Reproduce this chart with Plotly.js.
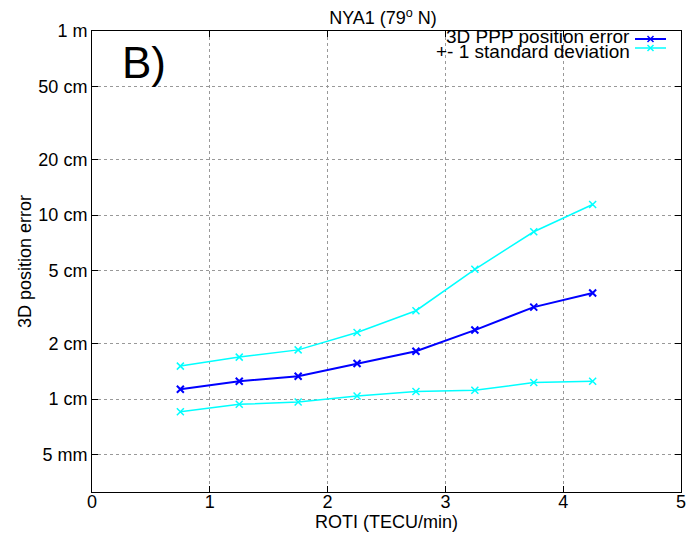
<!DOCTYPE html>
<html>
<head>
<meta charset="utf-8">
<script src="https://cdn.plot.ly/plotly-3.0.1.min.js"></script>
<style>html,body{margin:0;padding:0;background:#fff;}#chart{width:696px;height:544px;}</style>
</head>
<body>
<div id="chart"></div>
<script>
// ROTI bin centres (TECU/min)
const roti = [0.75, 1.25, 1.75, 2.25, 2.75, 3.25, 3.75, 4.25];
// 3D PPP position error (cm)
const meanError = [1.13, 1.25, 1.33, 1.56, 1.82, 2.37, 3.16, 3.77];
// +1 standard deviation (cm)
const upperStd = [1.51, 1.69, 1.85, 2.30, 3.02, 5.07, 8.11, 11.4];
// -1 standard deviation (cm)
const lowerStd = [0.853, 0.936, 0.963, 1.04, 1.10, 1.115, 1.23, 1.25];
// y tick values (cm) and labels
const yTickVals = [0.5, 1, 2, 5, 10, 20, 50, 100];
const yTickText = ['5 mm', '1 cm', '2 cm', '5 cm', '10 cm', '20 cm', '50 cm', '1 m'];
const xTickVals = [0, 1, 2, 3, 4, 5];

const font = 'Liberation Sans, Arial, sans-serif';
const BLUE = '#0000ff';
const CYAN = '#00ffff';

const traces = [
  {x: roti, y: upperStd, mode: 'lines+markers', name: '+- 1 standard deviation',
   line: {color: CYAN, width: 1.5}, marker: {symbol: 'x-thin-open', size: 7, color: CYAN, line: {color: CYAN, width: 1.5}}},
  {x: roti, y: lowerStd, mode: 'lines+markers', name: '-1 std',
   line: {color: CYAN, width: 1.5}, marker: {symbol: 'x-thin-open', size: 7, color: CYAN, line: {color: CYAN, width: 1.5}}},
  {x: roti, y: meanError, mode: 'lines+markers', name: '3D PPP position error',
   line: {color: BLUE, width: 2}, marker: {symbol: 'x-thin-open', size: 7, color: BLUE, line: {color: BLUE, width: 2}}}
];

function px2x(p){ return (p - 92) / 589; }
function px2y(p){ return (492 - p) / 461; }

function cross(cx, cy, c){
  const dx = 3/589, dy = 3/461;
  const x = px2x(cx), y = px2y(cy);
  return {type: 'path', xref: 'paper', yref: 'paper',
    path: `M ${x-dx},${y-dy} L ${x+dx},${y+dy} M ${x-dx},${y+dy} L ${x+dx},${y-dy}`,
    line: {color: c, width: 1.5}};
}

const layout = {
  width: 696, height: 544,
  margin: {l: 92, r: 15, t: 31, b: 52},
  paper_bgcolor: '#fff', plot_bgcolor: '#fff',
  showlegend: false,
  font: {family: font, size: 18, color: '#000'},
  title: {text: 'NYA1 (79<sup>o</sup> N)', font: {family: font, size: 18, color: '#000'},
          x: 383/696, xref: 'container', xanchor: 'center', y: 1 - 18/544, yref: 'container', yanchor: 'middle'},
  xaxis: {
    range: [0, 5], tickvals: xTickVals, ticks: 'inside', ticklen: 6, tickcolor: '#000',
    showline: true, linecolor: '#000', linewidth: 1, mirror: 'ticks',
    showgrid: true, gridcolor: '#999', griddash: 'dot', gridwidth: 1, zeroline: false,
    tickfont: {family: font, size: 18}, ticklabelstandoff: -7,
    title: {text: 'ROTI (TECU/min)', font: {family: font, size: 18}, standoff: 3}
  },
  yaxis: {
    type: 'log', range: [Math.log10(0.3125), 2], tickvals: yTickVals, ticktext: yTickText,
    ticks: 'inside', ticklen: 6, tickcolor: '#000',
    showline: true, linecolor: '#000', linewidth: 1, mirror: 'ticks',
    showgrid: true, gridcolor: '#999', griddash: 'dot', gridwidth: 1, zeroline: false,
    tickfont: {family: font, size: 18}, ticklabelstandoff: 0,
    title: {text: '3D position error', font: {family: font, size: 18}, standoff: 2}
  },
  shapes: [
    {type: 'rect', xref: 'paper', yref: 'paper', x0: px2x(447), x1: px2x(680), y0: px2y(58), y1: px2y(32),
     fillcolor: '#fff', line: {width: 0}, layer: 'between'},
    {type: 'line', xref: 'paper', yref: 'paper', x0: px2x(635), x1: px2x(666), y0: px2y(39), y1: px2y(39),
     line: {color: BLUE, width: 2}},
    cross(650.5, 39, BLUE),
    {type: 'line', xref: 'paper', yref: 'paper', x0: px2x(635), x1: px2x(666), y0: px2y(48), y1: px2y(48),
     line: {color: CYAN, width: 1.5}},
    cross(650.5, 48, CYAN)
  ],
  annotations: [
    {text: '3D PPP position error', xref: 'paper', yref: 'paper', x: px2x(632), y: px2y(36),
     xanchor: 'right', yanchor: 'middle', showarrow: false, font: {family: font, size: 19}},
    {text: '+- 1 standard deviation', xref: 'paper', yref: 'paper', x: px2x(632), y: px2y(51),
     xanchor: 'right', yanchor: 'middle', showarrow: false, font: {family: font, size: 19}},
    {text: 'B)', xref: 'paper', yref: 'paper', x: px2x(120), y: px2y(62),
     xanchor: 'left', yanchor: 'middle', showarrow: false, font: {family: font, size: 44}}
  ]
};

Plotly.newPlot('chart', traces, layout, {displayModeBar: false, staticPlot: true});
</script>
</body>
</html>
